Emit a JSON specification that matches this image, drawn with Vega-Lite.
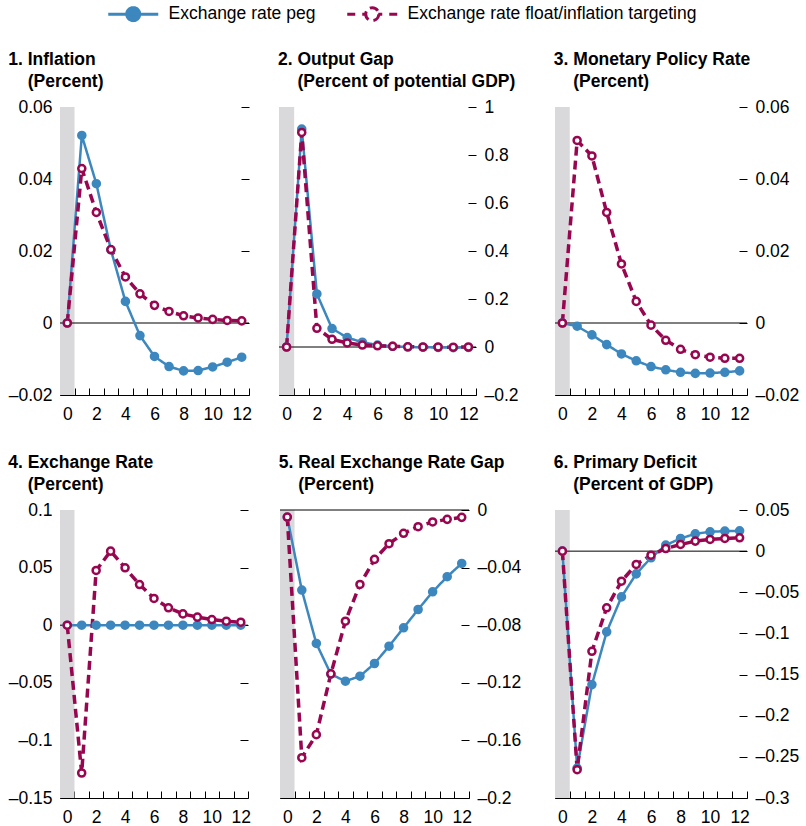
{
  "$schema": "https://vega.github.io/schema/vega-lite/v6.json",
  "padding": {"left": 8, "top": 5, "right": 0, "bottom": 0},
  "config": {
    "view": {"stroke": null},
    "font": "Liberation Sans",
    "axis": {"labelFont": "Liberation Sans", "labelFontSize": 17.5, "labelColor": "black", "tickColor": "black", "domainColor": "black", "grid": false, "title": null, "labelFlush": false, "labelOverlap": false},
    "title": {"anchor": "start", "frame": "bounds", "font": "Liberation Sans", "fontSize": 17.5, "fontWeight": "bold", "color": "black", "lineHeight": 22, "offset": 8}
  },
  "datasets": {
    "irf": [
      {"p":1,"s":"Exchange rate peg","t":0,"v":0},{"p":1,"s":"Exchange rate peg","t":1,"v":0.0521},{"p":1,"s":"Exchange rate peg","t":2,"v":0.0387},{"p":1,"s":"Exchange rate peg","t":3,"v":0.0203},{"p":1,"s":"Exchange rate peg","t":4,"v":0.0060},{"p":1,"s":"Exchange rate peg","t":5,"v":-0.0035},{"p":1,"s":"Exchange rate peg","t":6,"v":-0.0093},{"p":1,"s":"Exchange rate peg","t":7,"v":-0.0121},{"p":1,"s":"Exchange rate peg","t":8,"v":-0.0133},{"p":1,"s":"Exchange rate peg","t":9,"v":-0.0132},{"p":1,"s":"Exchange rate peg","t":10,"v":-0.0122},{"p":1,"s":"Exchange rate peg","t":11,"v":-0.0109},{"p":1,"s":"Exchange rate peg","t":12,"v":-0.0095},
      {"p":2,"s":"Exchange rate peg","t":0,"v":0},{"p":2,"s":"Exchange rate peg","t":1,"v":0.908},{"p":2,"s":"Exchange rate peg","t":2,"v":0.221},{"p":2,"s":"Exchange rate peg","t":3,"v":0.077},{"p":2,"s":"Exchange rate peg","t":4,"v":0.039},{"p":2,"s":"Exchange rate peg","t":5,"v":0.020},{"p":2,"s":"Exchange rate peg","t":6,"v":0.008},{"p":2,"s":"Exchange rate peg","t":7,"v":0.003},{"p":2,"s":"Exchange rate peg","t":8,"v":0.0},{"p":2,"s":"Exchange rate peg","t":9,"v":-0.001},{"p":2,"s":"Exchange rate peg","t":10,"v":-0.002},{"p":2,"s":"Exchange rate peg","t":11,"v":-0.003},{"p":2,"s":"Exchange rate peg","t":12,"v":-0.002},
      {"p":3,"s":"Exchange rate peg","t":0,"v":0},{"p":3,"s":"Exchange rate peg","t":1,"v":-0.0009},{"p":3,"s":"Exchange rate peg","t":2,"v":-0.0033},{"p":3,"s":"Exchange rate peg","t":3,"v":-0.0060},{"p":3,"s":"Exchange rate peg","t":4,"v":-0.0086},{"p":3,"s":"Exchange rate peg","t":5,"v":-0.0105},{"p":3,"s":"Exchange rate peg","t":6,"v":-0.0121},{"p":3,"s":"Exchange rate peg","t":7,"v":-0.0130},{"p":3,"s":"Exchange rate peg","t":8,"v":-0.0137},{"p":3,"s":"Exchange rate peg","t":9,"v":-0.0140},{"p":3,"s":"Exchange rate peg","t":10,"v":-0.0139},{"p":3,"s":"Exchange rate peg","t":11,"v":-0.0137},{"p":3,"s":"Exchange rate peg","t":12,"v":-0.0133},
      {"p":4,"s":"Exchange rate peg","t":0,"v":0},{"p":4,"s":"Exchange rate peg","t":1,"v":0},{"p":4,"s":"Exchange rate peg","t":2,"v":0},{"p":4,"s":"Exchange rate peg","t":3,"v":0},{"p":4,"s":"Exchange rate peg","t":4,"v":0},{"p":4,"s":"Exchange rate peg","t":5,"v":0},{"p":4,"s":"Exchange rate peg","t":6,"v":0},{"p":4,"s":"Exchange rate peg","t":7,"v":0},{"p":4,"s":"Exchange rate peg","t":8,"v":0},{"p":4,"s":"Exchange rate peg","t":9,"v":0},{"p":4,"s":"Exchange rate peg","t":10,"v":0},{"p":4,"s":"Exchange rate peg","t":11,"v":0},{"p":4,"s":"Exchange rate peg","t":12,"v":0},
      {"p":5,"s":"Exchange rate peg","t":0,"v":-0.005},{"p":5,"s":"Exchange rate peg","t":1,"v":-0.0556},{"p":5,"s":"Exchange rate peg","t":2,"v":-0.0927},{"p":5,"s":"Exchange rate peg","t":3,"v":-0.1140},{"p":5,"s":"Exchange rate peg","t":4,"v":-0.1189},{"p":5,"s":"Exchange rate peg","t":5,"v":-0.1154},{"p":5,"s":"Exchange rate peg","t":6,"v":-0.1066},{"p":5,"s":"Exchange rate peg","t":7,"v":-0.0946},{"p":5,"s":"Exchange rate peg","t":8,"v":-0.0818},{"p":5,"s":"Exchange rate peg","t":9,"v":-0.0691},{"p":5,"s":"Exchange rate peg","t":10,"v":-0.0568},{"p":5,"s":"Exchange rate peg","t":11,"v":-0.0463},{"p":5,"s":"Exchange rate peg","t":12,"v":-0.0371},
      {"p":6,"s":"Exchange rate peg","t":0,"v":0},{"p":6,"s":"Exchange rate peg","t":1,"v":-0.2636},{"p":6,"s":"Exchange rate peg","t":2,"v":-0.1622},{"p":6,"s":"Exchange rate peg","t":3,"v":-0.0981},{"p":6,"s":"Exchange rate peg","t":4,"v":-0.0556},{"p":6,"s":"Exchange rate peg","t":5,"v":-0.0276},{"p":6,"s":"Exchange rate peg","t":6,"v":-0.0081},{"p":6,"s":"Exchange rate peg","t":7,"v":0.0073},{"p":6,"s":"Exchange rate peg","t":8,"v":0.0154},{"p":6,"s":"Exchange rate peg","t":9,"v":0.0211},{"p":6,"s":"Exchange rate peg","t":10,"v":0.0235},{"p":6,"s":"Exchange rate peg","t":11,"v":0.0243},{"p":6,"s":"Exchange rate peg","t":12,"v":0.0247},
      {"p":1,"s":"Exchange rate float/inflation targeting","t":0,"v":0},{"p":1,"s":"Exchange rate float/inflation targeting","t":1,"v":0.0429},{"p":1,"s":"Exchange rate float/inflation targeting","t":2,"v":0.0307},{"p":1,"s":"Exchange rate float/inflation targeting","t":3,"v":0.0204},{"p":1,"s":"Exchange rate float/inflation targeting","t":4,"v":0.0128},{"p":1,"s":"Exchange rate float/inflation targeting","t":5,"v":0.0081},{"p":1,"s":"Exchange rate float/inflation targeting","t":6,"v":0.0049},{"p":1,"s":"Exchange rate float/inflation targeting","t":7,"v":0.0032},{"p":1,"s":"Exchange rate float/inflation targeting","t":8,"v":0.0020},{"p":1,"s":"Exchange rate float/inflation targeting","t":9,"v":0.0014},{"p":1,"s":"Exchange rate float/inflation targeting","t":10,"v":0.0010},{"p":1,"s":"Exchange rate float/inflation targeting","t":11,"v":0.0007},{"p":1,"s":"Exchange rate float/inflation targeting","t":12,"v":0.0006},
      {"p":2,"s":"Exchange rate float/inflation targeting","t":0,"v":0},{"p":2,"s":"Exchange rate float/inflation targeting","t":1,"v":0.894},{"p":2,"s":"Exchange rate float/inflation targeting","t":2,"v":0.078},{"p":2,"s":"Exchange rate float/inflation targeting","t":3,"v":0.032},{"p":2,"s":"Exchange rate float/inflation targeting","t":4,"v":0.017},{"p":2,"s":"Exchange rate float/inflation targeting","t":5,"v":0.008},{"p":2,"s":"Exchange rate float/inflation targeting","t":6,"v":0.005},{"p":2,"s":"Exchange rate float/inflation targeting","t":7,"v":0.003},{"p":2,"s":"Exchange rate float/inflation targeting","t":8,"v":0.001},{"p":2,"s":"Exchange rate float/inflation targeting","t":9,"v":0.0},{"p":2,"s":"Exchange rate float/inflation targeting","t":10,"v":0.0},{"p":2,"s":"Exchange rate float/inflation targeting","t":11,"v":-0.001},{"p":2,"s":"Exchange rate float/inflation targeting","t":12,"v":0.0},
      {"p":3,"s":"Exchange rate float/inflation targeting","t":0,"v":0},{"p":3,"s":"Exchange rate float/inflation targeting","t":1,"v":0.0507},{"p":3,"s":"Exchange rate float/inflation targeting","t":2,"v":0.0464},{"p":3,"s":"Exchange rate float/inflation targeting","t":3,"v":0.0307},{"p":3,"s":"Exchange rate float/inflation targeting","t":4,"v":0.0164},{"p":3,"s":"Exchange rate float/inflation targeting","t":5,"v":0.0060},{"p":3,"s":"Exchange rate float/inflation targeting","t":6,"v":-0.0006},{"p":3,"s":"Exchange rate float/inflation targeting","t":7,"v":-0.0048},{"p":3,"s":"Exchange rate float/inflation targeting","t":8,"v":-0.0073},{"p":3,"s":"Exchange rate float/inflation targeting","t":9,"v":-0.0088},{"p":3,"s":"Exchange rate float/inflation targeting","t":10,"v":-0.0095},{"p":3,"s":"Exchange rate float/inflation targeting","t":11,"v":-0.0098},{"p":3,"s":"Exchange rate float/inflation targeting","t":12,"v":-0.0098},
      {"p":4,"s":"Exchange rate float/inflation targeting","t":0,"v":0},{"p":4,"s":"Exchange rate float/inflation targeting","t":1,"v":-0.1283},{"p":4,"s":"Exchange rate float/inflation targeting","t":2,"v":0.0475},{"p":4,"s":"Exchange rate float/inflation targeting","t":3,"v":0.0643},{"p":4,"s":"Exchange rate float/inflation targeting","t":4,"v":0.0498},{"p":4,"s":"Exchange rate float/inflation targeting","t":5,"v":0.0353},{"p":4,"s":"Exchange rate float/inflation targeting","t":6,"v":0.0232},{"p":4,"s":"Exchange rate float/inflation targeting","t":7,"v":0.0151},{"p":4,"s":"Exchange rate float/inflation targeting","t":8,"v":0.0098},{"p":4,"s":"Exchange rate float/inflation targeting","t":9,"v":0.0070},{"p":4,"s":"Exchange rate float/inflation targeting","t":10,"v":0.0049},{"p":4,"s":"Exchange rate float/inflation targeting","t":11,"v":0.0035},{"p":4,"s":"Exchange rate float/inflation targeting","t":12,"v":0.0026},
      {"p":5,"s":"Exchange rate float/inflation targeting","t":0,"v":-0.0049},{"p":5,"s":"Exchange rate float/inflation targeting","t":1,"v":-0.172},{"p":5,"s":"Exchange rate float/inflation targeting","t":2,"v":-0.156},{"p":5,"s":"Exchange rate float/inflation targeting","t":3,"v":-0.1138},{"p":5,"s":"Exchange rate float/inflation targeting","t":4,"v":-0.0772},{"p":5,"s":"Exchange rate float/inflation targeting","t":5,"v":-0.0517},{"p":5,"s":"Exchange rate float/inflation targeting","t":6,"v":-0.0343},{"p":5,"s":"Exchange rate float/inflation targeting","t":7,"v":-0.0234},{"p":5,"s":"Exchange rate float/inflation targeting","t":8,"v":-0.0162},{"p":5,"s":"Exchange rate float/inflation targeting","t":9,"v":-0.0116},{"p":5,"s":"Exchange rate float/inflation targeting","t":10,"v":-0.0083},{"p":5,"s":"Exchange rate float/inflation targeting","t":11,"v":-0.0065},{"p":5,"s":"Exchange rate float/inflation targeting","t":12,"v":-0.0051},
      {"p":6,"s":"Exchange rate float/inflation targeting","t":0,"v":0},{"p":6,"s":"Exchange rate float/inflation targeting","t":1,"v":-0.2656},{"p":6,"s":"Exchange rate float/inflation targeting","t":2,"v":-0.1217},{"p":6,"s":"Exchange rate float/inflation targeting","t":3,"v":-0.0689},{"p":6,"s":"Exchange rate float/inflation targeting","t":4,"v":-0.0365},{"p":6,"s":"Exchange rate float/inflation targeting","t":5,"v":-0.0162},{"p":6,"s":"Exchange rate float/inflation targeting","t":6,"v":-0.0049},{"p":6,"s":"Exchange rate float/inflation targeting","t":7,"v":0.0032},{"p":6,"s":"Exchange rate float/inflation targeting","t":8,"v":0.0081},{"p":6,"s":"Exchange rate float/inflation targeting","t":9,"v":0.0122},{"p":6,"s":"Exchange rate float/inflation targeting","t":10,"v":0.0142},{"p":6,"s":"Exchange rate float/inflation targeting","t":11,"v":0.0154},{"p":6,"s":"Exchange rate float/inflation targeting","t":12,"v":0.0162}
    ]
  },
  "spacing": 30,
  "vconcat": [
    {
      "spacing": 26,
      "hconcat": [
        {
          "width": 189, "height": 288,
          "title": {"text": ["1. Inflation", "\u200b\u00a0\u00a0\u00a0\u00a0(Percent)"]},
          "resolve": {"axis": {"y": "independent"}},
          "layer": [
            {"data": {"values": [{"t": -0.5, "t2": 0.5}]}, "mark": {"type": "rect", "color": "#d9d9db"},
             "encoding": {"x": {"field": "t", "type": "quantitative", "scale": {"domain": [-0.5, 12.5], "nice": false, "zero": false}, "axis": {"values": [-0.5,0,0.5,1,1.5,2,2.5,3,3.5,4,4.5,5,5.5,6,6.5,7,7.5,8,8.5,9,9.5,10,10.5,11,11.5,12,12.5], "labelExpr": "datum.value % 2 === 0 ? format(datum.value, 'd') : ''", "tickColor": {"condition": {"test": "datum.value % 1 === 0", "value": "transparent"}, "value": "black"}, "tickSize": -7, "labelPadding": 17}}, "x2": {"field": "t2"}}},
            {"data": {"values": [{}]}, "mark": {"type": "rule", "color": "black", "strokeWidth": 1},
             "encoding": {"y": {"datum": 0, "type": "quantitative", "scale": {"domain": [-0.02, 0.06], "nice": false, "zero": false}, "axis": {"orient": "left", "values": [-0.02, 0, 0.02, 0.04, 0.06], "labelExpr": "datum.value === 0 ? '0' : replace(format(datum.value, '~g'), '\u2212', '\u2013')", "tickSize": -8, "labelPadding": 16, "domain": false}}}},
            {"data": {"name": "irf"}, "transform": [{"filter": "datum.p === 1"}],
             "encoding": {
               "x": {"field": "t", "type": "quantitative", "scale": {"domain": [-0.5, 12.5], "nice": false, "zero": false}, "axis": {"values": [-0.5,0,0.5,1,1.5,2,2.5,3,3.5,4,4.5,5,5.5,6,6.5,7,7.5,8,8.5,9,9.5,10,10.5,11,11.5,12,12.5], "labelExpr": "datum.value % 2 === 0 ? format(datum.value, 'd') : ''", "tickColor": {"condition": {"test": "datum.value % 1 === 0", "value": "transparent"}, "value": "black"}, "tickSize": -7, "labelPadding": 17}},
               "y": {"field": "v", "type": "quantitative", "scale": {"domain": [-0.02, 0.06], "nice": false, "zero": false}, "axis": {"orient": "right", "values": [-0.02, 0, 0.02, 0.04, 0.06], "labels": false, "tickSize": -8, "domain": false}},
               "stroke": {"field": "s", "type": "nominal", "scale": {"domain": ["Exchange rate peg", "Exchange rate float/inflation targeting"], "range": ["#3d87bf", "#98064f"]},
                 "legend": {"orient": "none", "legendX": 46, "legendY": -102, "direction": "horizontal", "title": null, "symbolSize": 100, "symbolStrokeWidth": 3, "labelFont": "Liberation Sans", "labelFontSize": 17.5, "labelColor": "black", "labelLimit": 500, "labelOffset": 45, "columnPadding": 25,
                   "encode": {"symbols": {"update": {"shape": {"signal": "datum.value === 'Exchange rate peg' ? 'M-1.3,0H8.7M5,0A1.3,1.3 0 1,1 2.4,0A1.3,1.3 0 1,1 5,0Z' : 'M-1.3,0H0.3M1.7,0H2.5M4.9,0H5.7M7.1,0H8.7M5,0A1.3,1.3 0 1,1 2.4,0A1.3,1.3 0 1,1 5,0Z'"}, "fill": {"signal": "datum.value === 'Exchange rate peg' ? '#3d87bf' : 'white'"}, "strokeWidth": {"value": 3}, "strokeDash": {"value": [1, 0]}, "opacity": {"value": 1}, "fillOpacity": {"value": 1}}}}}}
             },
             "layer": [
               {"mark": {"type": "line"}, "encoding": {"strokeDash": {"field": "s", "type": "nominal", "scale": {"domain": ["Exchange rate peg", "Exchange rate float/inflation targeting"], "range": [[1, 0], [9, 5]]}, "legend": null}, "strokeWidth": {"condition": {"test": "datum.s === 'Exchange rate peg'", "value": 2.5}, "value": 3.5}}},
               {"mark": {"type": "point", "shape": "circle", "size": 50, "strokeWidth": 2.5, "opacity": 1, "filled": true}, "encoding": {"fill": {"field": "s", "type": "nominal", "scale": {"domain": ["Exchange rate peg", "Exchange rate float/inflation targeting"], "range": ["#3d87bf", "white"]}, "legend": null}}}
             ]}
          ]
        },
        {
          "spacing": 34,
          "hconcat": [
            {
              "width": 197, "height": 288,
              "title": {"text": ["2. Output Gap", "\u200b\u00a0\u00a0\u00a0\u00a0(Percent of potential GDP)"]},
              "resolve": {"axis": {"y": "independent"}},
              "layer": [
                {"data": {"values": [{"t": -0.5, "t2": 0.5}]}, "mark": {"type": "rect", "color": "#d9d9db"},
                 "encoding": {"x": {"field": "t", "type": "quantitative", "scale": {"domain": [-0.5, 12.5], "nice": false, "zero": false}, "axis": {"values": [-0.5,0,0.5,1,1.5,2,2.5,3,3.5,4,4.5,5,5.5,6,6.5,7,7.5,8,8.5,9,9.5,10,10.5,11,11.5,12,12.5], "labelExpr": "datum.value % 2 === 0 ? format(datum.value, 'd') : ''", "tickColor": {"condition": {"test": "datum.value % 1 === 0", "value": "transparent"}, "value": "black"}, "tickSize": -7, "labelPadding": 17}}, "x2": {"field": "t2"}}},
                {"data": {"values": [{}]}, "mark": {"type": "rule", "color": "black", "strokeWidth": 1},
                 "encoding": {"y": {"datum": 0, "type": "quantitative", "scale": {"domain": [-0.2, 1], "nice": false, "zero": false}, "axis": {"orient": "left", "values": [-0.2, 0, 0.2, 0.4, 0.6, 0.8, 1], "labels": false, "tickSize": -8, "domain": false}}}},
                {"data": {"name": "irf"}, "transform": [{"filter": "datum.p === 2"}],
                 "encoding": {
                   "x": {"field": "t", "type": "quantitative", "scale": {"domain": [-0.5, 12.5], "nice": false, "zero": false}, "axis": {"values": [-0.5,0,0.5,1,1.5,2,2.5,3,3.5,4,4.5,5,5.5,6,6.5,7,7.5,8,8.5,9,9.5,10,10.5,11,11.5,12,12.5], "labelExpr": "datum.value % 2 === 0 ? format(datum.value, 'd') : ''", "tickColor": {"condition": {"test": "datum.value % 1 === 0", "value": "transparent"}, "value": "black"}, "tickSize": -7, "labelPadding": 17}},
                   "y": {"field": "v", "type": "quantitative", "scale": {"domain": [-0.2, 1], "nice": false, "zero": false}, "axis": {"orient": "right", "values": [-0.2, 0, 0.2, 0.4, 0.6, 0.8, 1], "labelExpr": "datum.value === 0 ? '0' : replace(format(datum.value, '~g'), '\u2212', '\u2013')", "tickSize": -8, "labelPadding": 16, "domain": false}},
                   "stroke": {"field": "s", "type": "nominal", "scale": {"domain": ["Exchange rate peg", "Exchange rate float/inflation targeting"], "range": ["#3d87bf", "#98064f"]},
                     "legend": {"orient": "none", "legendX": 46, "legendY": -102, "direction": "horizontal", "title": null, "symbolSize": 100, "symbolStrokeWidth": 3, "labelFont": "Liberation Sans", "labelFontSize": 17.5, "labelColor": "black", "labelLimit": 500, "labelOffset": 45, "columnPadding": 25,
                       "encode": {"symbols": {"update": {"shape": {"signal": "datum.value === 'Exchange rate peg' ? 'M-1.3,0H8.7M5,0A1.3,1.3 0 1,1 2.4,0A1.3,1.3 0 1,1 5,0Z' : 'M-1.3,0H0.3M1.7,0H2.5M4.9,0H5.7M7.1,0H8.7M5,0A1.3,1.3 0 1,1 2.4,0A1.3,1.3 0 1,1 5,0Z'"}, "fill": {"signal": "datum.value === 'Exchange rate peg' ? '#3d87bf' : 'white'"}, "strokeWidth": {"value": 3}, "strokeDash": {"value": [1, 0]}, "opacity": {"value": 1}, "fillOpacity": {"value": 1}}}}}}
                 },
                 "layer": [
                   {"mark": {"type": "line"}, "encoding": {"strokeDash": {"field": "s", "type": "nominal", "scale": {"domain": ["Exchange rate peg", "Exchange rate float/inflation targeting"], "range": [[1, 0], [9, 5]]}, "legend": null}, "strokeWidth": {"condition": {"test": "datum.s === 'Exchange rate peg'", "value": 2.5}, "value": 3.5}}},
                   {"mark": {"type": "point", "shape": "circle", "size": 50, "strokeWidth": 2.5, "opacity": 1, "filled": true}, "encoding": {"fill": {"field": "s", "type": "nominal", "scale": {"domain": ["Exchange rate peg", "Exchange rate float/inflation targeting"], "range": ["#3d87bf", "white"]}, "legend": null}}}
                 ]}
              ]
            },
            {
              "width": 192, "height": 288,
              "title": {"text": ["3. Monetary Policy Rate", "\u200b\u00a0\u00a0\u00a0\u00a0(Percent)"]},
              "resolve": {"axis": {"y": "independent"}},
              "layer": [
                {"data": {"values": [{"t": -0.5, "t2": 0.5}]}, "mark": {"type": "rect", "color": "#d9d9db"},
                 "encoding": {"x": {"field": "t", "type": "quantitative", "scale": {"domain": [-0.5, 12.5], "nice": false, "zero": false}, "axis": {"values": [-0.5,0,0.5,1,1.5,2,2.5,3,3.5,4,4.5,5,5.5,6,6.5,7,7.5,8,8.5,9,9.5,10,10.5,11,11.5,12,12.5], "labelExpr": "datum.value % 2 === 0 ? format(datum.value, 'd') : ''", "tickColor": {"condition": {"test": "datum.value % 1 === 0", "value": "transparent"}, "value": "black"}, "tickSize": -7, "labelPadding": 17}}, "x2": {"field": "t2"}}},
                {"data": {"values": [{}]}, "mark": {"type": "rule", "color": "black", "strokeWidth": 1},
                 "encoding": {"y": {"datum": 0, "type": "quantitative", "scale": {"domain": [-0.02, 0.06], "nice": false, "zero": false}, "axis": {"orient": "left", "values": [-0.02, 0, 0.02, 0.04, 0.06], "labels": false, "tickSize": -8, "domain": false}}}},
                {"data": {"name": "irf"}, "transform": [{"filter": "datum.p === 3"}],
                 "encoding": {
                   "x": {"field": "t", "type": "quantitative", "scale": {"domain": [-0.5, 12.5], "nice": false, "zero": false}, "axis": {"values": [-0.5,0,0.5,1,1.5,2,2.5,3,3.5,4,4.5,5,5.5,6,6.5,7,7.5,8,8.5,9,9.5,10,10.5,11,11.5,12,12.5], "labelExpr": "datum.value % 2 === 0 ? format(datum.value, 'd') : ''", "tickColor": {"condition": {"test": "datum.value % 1 === 0", "value": "transparent"}, "value": "black"}, "tickSize": -7, "labelPadding": 17}},
                   "y": {"field": "v", "type": "quantitative", "scale": {"domain": [-0.02, 0.06], "nice": false, "zero": false}, "axis": {"orient": "right", "values": [-0.02, 0, 0.02, 0.04, 0.06], "labelExpr": "datum.value === 0 ? '0' : replace(format(datum.value, '~g'), '\u2212', '\u2013')", "tickSize": -8, "labelPadding": 16, "domain": false}},
                   "stroke": {"field": "s", "type": "nominal", "scale": {"domain": ["Exchange rate peg", "Exchange rate float/inflation targeting"], "range": ["#3d87bf", "#98064f"]},
                     "legend": {"orient": "none", "legendX": 46, "legendY": -102, "direction": "horizontal", "title": null, "symbolSize": 100, "symbolStrokeWidth": 3, "labelFont": "Liberation Sans", "labelFontSize": 17.5, "labelColor": "black", "labelLimit": 500, "labelOffset": 45, "columnPadding": 25,
                       "encode": {"symbols": {"update": {"shape": {"signal": "datum.value === 'Exchange rate peg' ? 'M-1.3,0H8.7M5,0A1.3,1.3 0 1,1 2.4,0A1.3,1.3 0 1,1 5,0Z' : 'M-1.3,0H0.3M1.7,0H2.5M4.9,0H5.7M7.1,0H8.7M5,0A1.3,1.3 0 1,1 2.4,0A1.3,1.3 0 1,1 5,0Z'"}, "fill": {"signal": "datum.value === 'Exchange rate peg' ? '#3d87bf' : 'white'"}, "strokeWidth": {"value": 3}, "strokeDash": {"value": [1, 0]}, "opacity": {"value": 1}, "fillOpacity": {"value": 1}}}}}}
                 },
                 "layer": [
                   {"mark": {"type": "line"}, "encoding": {"strokeDash": {"field": "s", "type": "nominal", "scale": {"domain": ["Exchange rate peg", "Exchange rate float/inflation targeting"], "range": [[1, 0], [9, 5]]}, "legend": null}, "strokeWidth": {"condition": {"test": "datum.s === 'Exchange rate peg'", "value": 2.5}, "value": 3.5}}},
                   {"mark": {"type": "point", "shape": "circle", "size": 50, "strokeWidth": 2.5, "opacity": 1, "filled": true}, "encoding": {"fill": {"field": "s", "type": "nominal", "scale": {"domain": ["Exchange rate peg", "Exchange rate float/inflation targeting"], "range": ["#3d87bf", "white"]}, "legend": null}}}
                 ]}
              ]
            }
          ]
        }
      ]
    },
    {
      "spacing": 27,
      "hconcat": [
        {
          "width": 188, "height": 288,
          "title": {"text": ["4. Exchange Rate", "\u200b\u00a0\u00a0\u00a0\u00a0(Percent)"]},
          "resolve": {"axis": {"y": "independent"}},
          "layer": [
            {"data": {"values": [{"t": -0.5, "t2": 0.5}]}, "mark": {"type": "rect", "color": "#d9d9db"},
             "encoding": {"x": {"field": "t", "type": "quantitative", "scale": {"domain": [-0.5, 12.5], "nice": false, "zero": false}, "axis": {"values": [-0.5,0,0.5,1,1.5,2,2.5,3,3.5,4,4.5,5,5.5,6,6.5,7,7.5,8,8.5,9,9.5,10,10.5,11,11.5,12,12.5], "labelExpr": "datum.value % 2 === 0 ? format(datum.value, 'd') : ''", "tickColor": {"condition": {"test": "datum.value % 1 === 0", "value": "transparent"}, "value": "black"}, "tickSize": -7, "labelPadding": 17}}, "x2": {"field": "t2"}}},
            {"data": {"values": [{}]}, "mark": {"type": "rule", "color": "black", "strokeWidth": 1},
             "encoding": {"y": {"datum": 0, "type": "quantitative", "scale": {"domain": [-0.15, 0.1], "nice": false, "zero": false}, "axis": {"orient": "left", "values": [-0.15, -0.1, -0.05, 0, 0.05, 0.1], "labelExpr": "datum.value === 0 ? '0' : replace(format(datum.value, '~g'), '\u2212', '\u2013')", "tickSize": -8, "labelPadding": 16, "domain": false}}}},
            {"data": {"name": "irf"}, "transform": [{"filter": "datum.p === 4"}],
             "encoding": {
               "x": {"field": "t", "type": "quantitative", "scale": {"domain": [-0.5, 12.5], "nice": false, "zero": false}, "axis": {"values": [-0.5,0,0.5,1,1.5,2,2.5,3,3.5,4,4.5,5,5.5,6,6.5,7,7.5,8,8.5,9,9.5,10,10.5,11,11.5,12,12.5], "labelExpr": "datum.value % 2 === 0 ? format(datum.value, 'd') : ''", "tickColor": {"condition": {"test": "datum.value % 1 === 0", "value": "transparent"}, "value": "black"}, "tickSize": -7, "labelPadding": 17}},
               "y": {"field": "v", "type": "quantitative", "scale": {"domain": [-0.15, 0.1], "nice": false, "zero": false}, "axis": {"orient": "right", "values": [-0.15, -0.1, -0.05, 0, 0.05, 0.1], "labels": false, "tickSize": -8, "domain": false}},
               "stroke": {"field": "s", "type": "nominal", "scale": {"domain": ["Exchange rate peg", "Exchange rate float/inflation targeting"], "range": ["#3d87bf", "#98064f"]},
                 "legend": {"orient": "none", "legendX": 46, "legendY": -102, "direction": "horizontal", "title": null, "symbolSize": 100, "symbolStrokeWidth": 3, "labelFont": "Liberation Sans", "labelFontSize": 17.5, "labelColor": "black", "labelLimit": 500, "labelOffset": 45, "columnPadding": 25,
                   "encode": {"symbols": {"update": {"shape": {"signal": "datum.value === 'Exchange rate peg' ? 'M-1.3,0H8.7M5,0A1.3,1.3 0 1,1 2.4,0A1.3,1.3 0 1,1 5,0Z' : 'M-1.3,0H0.3M1.7,0H2.5M4.9,0H5.7M7.1,0H8.7M5,0A1.3,1.3 0 1,1 2.4,0A1.3,1.3 0 1,1 5,0Z'"}, "fill": {"signal": "datum.value === 'Exchange rate peg' ? '#3d87bf' : 'white'"}, "strokeWidth": {"value": 3}, "strokeDash": {"value": [1, 0]}, "opacity": {"value": 1}, "fillOpacity": {"value": 1}}}}}}
             },
             "layer": [
               {"mark": {"type": "line"}, "encoding": {"strokeDash": {"field": "s", "type": "nominal", "scale": {"domain": ["Exchange rate peg", "Exchange rate float/inflation targeting"], "range": [[1, 0], [9, 5]]}, "legend": null}, "strokeWidth": {"condition": {"test": "datum.s === 'Exchange rate peg'", "value": 2.5}, "value": 3.5}}},
               {"mark": {"type": "point", "shape": "circle", "size": 50, "strokeWidth": 2.5, "opacity": 1, "filled": true}, "encoding": {"fill": {"field": "s", "type": "nominal", "scale": {"domain": ["Exchange rate peg", "Exchange rate float/inflation targeting"], "range": ["#3d87bf", "white"]}, "legend": null}}}
             ]}
          ]
        },
        {
          "spacing": 32,
          "hconcat": [
            {
              "width": 189, "height": 288,
              "title": {"text": ["5. Real Exchange Rate Gap", "\u200b\u00a0\u00a0\u00a0\u00a0(Percent)"]},
              "resolve": {"axis": {"y": "independent"}},
              "layer": [
                {"data": {"values": [{"t": -0.5, "t2": 0.5}]}, "mark": {"type": "rect", "color": "#d9d9db"},
                 "encoding": {"x": {"field": "t", "type": "quantitative", "scale": {"domain": [-0.5, 12.5], "nice": false, "zero": false}, "axis": {"values": [-0.5,0,0.5,1,1.5,2,2.5,3,3.5,4,4.5,5,5.5,6,6.5,7,7.5,8,8.5,9,9.5,10,10.5,11,11.5,12,12.5], "labelExpr": "datum.value % 2 === 0 ? format(datum.value, 'd') : ''", "tickColor": {"condition": {"test": "datum.value % 1 === 0", "value": "transparent"}, "value": "black"}, "tickSize": -7, "labelPadding": 17}}, "x2": {"field": "t2"}}},
                {"data": {"values": [{}]}, "mark": {"type": "rule", "color": "black", "strokeWidth": 1},
                 "encoding": {"y": {"datum": 0, "type": "quantitative", "scale": {"domain": [-0.2, 0], "nice": false, "zero": false}, "axis": {"orient": "left", "values": [-0.2, -0.16, -0.12, -0.08, -0.04, 0], "labels": false, "tickSize": -8, "domain": false}}}},
                {"data": {"name": "irf"}, "transform": [{"filter": "datum.p === 5"}],
                 "encoding": {
                   "x": {"field": "t", "type": "quantitative", "scale": {"domain": [-0.5, 12.5], "nice": false, "zero": false}, "axis": {"values": [-0.5,0,0.5,1,1.5,2,2.5,3,3.5,4,4.5,5,5.5,6,6.5,7,7.5,8,8.5,9,9.5,10,10.5,11,11.5,12,12.5], "labelExpr": "datum.value % 2 === 0 ? format(datum.value, 'd') : ''", "tickColor": {"condition": {"test": "datum.value % 1 === 0", "value": "transparent"}, "value": "black"}, "tickSize": -7, "labelPadding": 17}},
                   "y": {"field": "v", "type": "quantitative", "scale": {"domain": [-0.2, 0], "nice": false, "zero": false}, "axis": {"orient": "right", "values": [-0.2, -0.16, -0.12, -0.08, -0.04, 0], "labelExpr": "datum.value === 0 ? '0' : replace(format(datum.value, '~g'), '\u2212', '\u2013')", "tickSize": -8, "labelPadding": 16, "domain": false}},
                   "stroke": {"field": "s", "type": "nominal", "scale": {"domain": ["Exchange rate peg", "Exchange rate float/inflation targeting"], "range": ["#3d87bf", "#98064f"]},
                     "legend": {"orient": "none", "legendX": 46, "legendY": -102, "direction": "horizontal", "title": null, "symbolSize": 100, "symbolStrokeWidth": 3, "labelFont": "Liberation Sans", "labelFontSize": 17.5, "labelColor": "black", "labelLimit": 500, "labelOffset": 45, "columnPadding": 25,
                       "encode": {"symbols": {"update": {"shape": {"signal": "datum.value === 'Exchange rate peg' ? 'M-1.3,0H8.7M5,0A1.3,1.3 0 1,1 2.4,0A1.3,1.3 0 1,1 5,0Z' : 'M-1.3,0H0.3M1.7,0H2.5M4.9,0H5.7M7.1,0H8.7M5,0A1.3,1.3 0 1,1 2.4,0A1.3,1.3 0 1,1 5,0Z'"}, "fill": {"signal": "datum.value === 'Exchange rate peg' ? '#3d87bf' : 'white'"}, "strokeWidth": {"value": 3}, "strokeDash": {"value": [1, 0]}, "opacity": {"value": 1}, "fillOpacity": {"value": 1}}}}}}
                 },
                 "layer": [
                   {"mark": {"type": "line"}, "encoding": {"strokeDash": {"field": "s", "type": "nominal", "scale": {"domain": ["Exchange rate peg", "Exchange rate float/inflation targeting"], "range": [[1, 0], [9, 5]]}, "legend": null}, "strokeWidth": {"condition": {"test": "datum.s === 'Exchange rate peg'", "value": 2.5}, "value": 3.5}}},
                   {"mark": {"type": "point", "shape": "circle", "size": 50, "strokeWidth": 2.5, "opacity": 1, "filled": true}, "encoding": {"fill": {"field": "s", "type": "nominal", "scale": {"domain": ["Exchange rate peg", "Exchange rate float/inflation targeting"], "range": ["#3d87bf", "white"]}, "legend": null}}}
                 ]}
              ]
            },
            {
              "width": 192, "height": 288,
              "title": {"text": ["6. Primary Deficit", "\u200b\u00a0\u00a0\u00a0\u00a0(Percent of GDP)"]},
              "resolve": {"axis": {"y": "independent"}},
              "layer": [
                {"data": {"values": [{"t": -0.5, "t2": 0.5}]}, "mark": {"type": "rect", "color": "#d9d9db"},
                 "encoding": {"x": {"field": "t", "type": "quantitative", "scale": {"domain": [-0.5, 12.5], "nice": false, "zero": false}, "axis": {"values": [-0.5,0,0.5,1,1.5,2,2.5,3,3.5,4,4.5,5,5.5,6,6.5,7,7.5,8,8.5,9,9.5,10,10.5,11,11.5,12,12.5], "labelExpr": "datum.value % 2 === 0 ? format(datum.value, 'd') : ''", "tickColor": {"condition": {"test": "datum.value % 1 === 0", "value": "transparent"}, "value": "black"}, "tickSize": -7, "labelPadding": 17}}, "x2": {"field": "t2"}}},
                {"data": {"values": [{}]}, "mark": {"type": "rule", "color": "black", "strokeWidth": 1},
                 "encoding": {"y": {"datum": 0, "type": "quantitative", "scale": {"domain": [-0.3, 0.05], "nice": false, "zero": false}, "axis": {"orient": "left", "values": [-0.3, -0.25, -0.2, -0.15, -0.1, -0.05, 0, 0.05], "labels": false, "tickSize": -8, "domain": false}}}},
                {"data": {"name": "irf"}, "transform": [{"filter": "datum.p === 6"}],
                 "encoding": {
                   "x": {"field": "t", "type": "quantitative", "scale": {"domain": [-0.5, 12.5], "nice": false, "zero": false}, "axis": {"values": [-0.5,0,0.5,1,1.5,2,2.5,3,3.5,4,4.5,5,5.5,6,6.5,7,7.5,8,8.5,9,9.5,10,10.5,11,11.5,12,12.5], "labelExpr": "datum.value % 2 === 0 ? format(datum.value, 'd') : ''", "tickColor": {"condition": {"test": "datum.value % 1 === 0", "value": "transparent"}, "value": "black"}, "tickSize": -7, "labelPadding": 17}},
                   "y": {"field": "v", "type": "quantitative", "scale": {"domain": [-0.3, 0.05], "nice": false, "zero": false}, "axis": {"orient": "right", "values": [-0.3, -0.25, -0.2, -0.15, -0.1, -0.05, 0, 0.05], "labelExpr": "datum.value === 0 ? '0' : replace(format(datum.value, '~g'), '\u2212', '\u2013')", "tickSize": -8, "labelPadding": 16, "domain": false}},
                   "stroke": {"field": "s", "type": "nominal", "scale": {"domain": ["Exchange rate peg", "Exchange rate float/inflation targeting"], "range": ["#3d87bf", "#98064f"]},
                     "legend": {"orient": "none", "legendX": 46, "legendY": -102, "direction": "horizontal", "title": null, "symbolSize": 100, "symbolStrokeWidth": 3, "labelFont": "Liberation Sans", "labelFontSize": 17.5, "labelColor": "black", "labelLimit": 500, "labelOffset": 45, "columnPadding": 25,
                       "encode": {"symbols": {"update": {"shape": {"signal": "datum.value === 'Exchange rate peg' ? 'M-1.3,0H8.7M5,0A1.3,1.3 0 1,1 2.4,0A1.3,1.3 0 1,1 5,0Z' : 'M-1.3,0H0.3M1.7,0H2.5M4.9,0H5.7M7.1,0H8.7M5,0A1.3,1.3 0 1,1 2.4,0A1.3,1.3 0 1,1 5,0Z'"}, "fill": {"signal": "datum.value === 'Exchange rate peg' ? '#3d87bf' : 'white'"}, "strokeWidth": {"value": 3}, "strokeDash": {"value": [1, 0]}, "opacity": {"value": 1}, "fillOpacity": {"value": 1}}}}}}
                 },
                 "layer": [
                   {"mark": {"type": "line"}, "encoding": {"strokeDash": {"field": "s", "type": "nominal", "scale": {"domain": ["Exchange rate peg", "Exchange rate float/inflation targeting"], "range": [[1, 0], [9, 5]]}, "legend": null}, "strokeWidth": {"condition": {"test": "datum.s === 'Exchange rate peg'", "value": 2.5}, "value": 3.5}}},
                   {"mark": {"type": "point", "shape": "circle", "size": 50, "strokeWidth": 2.5, "opacity": 1, "filled": true}, "encoding": {"fill": {"field": "s", "type": "nominal", "scale": {"domain": ["Exchange rate peg", "Exchange rate float/inflation targeting"], "range": ["#3d87bf", "white"]}, "legend": null}}}
                 ]}
              ]
            }
          ]
        }
      ]
    }
  ]
}
